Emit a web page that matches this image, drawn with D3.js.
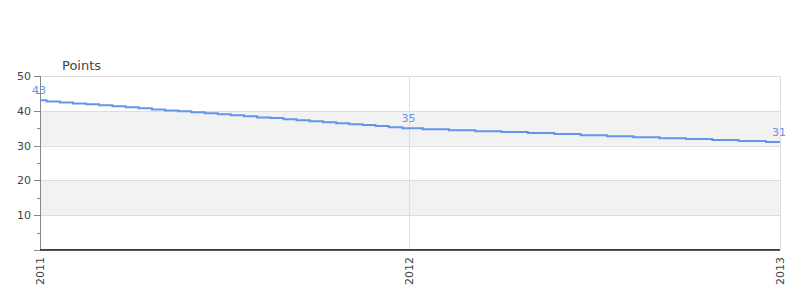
<!DOCTYPE html>
<html>
<head>
<meta charset="utf-8">
<script src="https://cdn.jsdelivr.net/npm/d3@7"></script>
<style>
  body { margin: 0; background: #fff; }
  text { font-family: "DejaVu Sans", sans-serif; }
</style>
</head>
<body>
<div id="chart"></div>
<script>
// datos de la serie
var fechas = [
  "2011-01-01", "2011-01-14", "2011-01-27", "2011-02-09", "2011-02-22", "2011-03-07",
  "2011-03-20", "2011-04-02", "2011-04-15", "2011-04-28", "2011-05-11", "2011-05-24",
  "2011-06-06", "2011-06-19", "2011-07-02", "2011-07-15", "2011-07-28", "2011-08-10",
  "2011-08-23", "2011-09-05", "2011-09-18", "2011-10-01", "2011-10-14", "2011-10-27",
  "2011-11-09", "2011-11-22", "2011-12-05", "2011-12-18", "2012-01-01",
  "2012-01-27", "2012-02-22", "2012-03-19", "2012-04-14", "2012-05-10", "2012-06-05",
  "2012-07-01", "2012-07-27", "2012-08-22", "2012-09-17", "2012-10-13", "2012-11-08",
  "2012-12-04", "2013-01-01"
];
var puntos = [
  43.0, 42.7, 42.4, 42.1, 41.9, 41.6, 41.3, 41.0, 40.7, 40.4, 40.1, 39.9,
  39.6, 39.3, 39.0, 38.7, 38.4, 38.1, 37.9, 37.6, 37.3, 37.0, 36.7, 36.4,
  36.1, 35.9, 35.6, 35.3, 35.0,
  34.7, 34.4, 34.1, 33.9, 33.6, 33.3, 33.0, 32.7, 32.4, 32.1, 31.9, 31.6,
  31.3, 31.0
];
// serie base en cero (linea roja)
var base = [0, 0];
var baseFechas = ["2011-01-01", "2013-01-01"];
// ejes
var yTicks = [10, 20, 30, 40, 50];
var yMinor = [5, 15, 25, 35, 45];
var xTicks = ["2011-01-01", "2012-01-01", "2013-01-01"];
var etiquetas = ["2011-01-01", "2012-01-01", "2013-01-01"]; // puntos con valor visible

var width = 800, height = 300;
var margin = {top: 76, right: 20, bottom: 50, left: 40};
var parse = d3.timeParse("%Y-%m-%d");

var svg = d3.select("#chart").append("svg")
  .attr("width", width).attr("height", height);

var x = d3.scaleTime()
  .domain([parse("2011-01-01"), parse("2013-01-01")])
  .range([margin.left, width - margin.right]);
var y = d3.scaleLinear()
  .domain([0, 50])
  .range([height - margin.bottom, margin.top]);

var data = fechas.map(function(f, i) { return {d: parse(f), v: puntos[i]}; });

// bandas alternas
var bandas = [[10, 20], [30, 40]];
svg.append("g").selectAll("rect").data(bandas).enter().append("rect")
  .attr("x", margin.left).attr("width", x.range()[1] - margin.left)
  .attr("y", function(b) { return y(b[1]); })
  .attr("height", function(b) { return y(b[0]) - y(b[1]); })
  .attr("fill", "#f2f2f2");

// lineas de rejilla horizontales
svg.append("g").selectAll("line").data(yTicks).enter().append("line")
  .attr("x1", margin.left).attr("x2", x.range()[1])
  .attr("y1", function(t) { return Math.round(y(t)) + 0.5; })
  .attr("y2", function(t) { return Math.round(y(t)) + 0.5; })
  .attr("stroke", "#ddd");

// lineas verticales
svg.append("g").selectAll("line").data(xTicks.slice(1)).enter().append("line")
  .attr("x1", function(t) { return Math.round(x(parse(t))) + 0.5; })
  .attr("x2", function(t) { return Math.round(x(parse(t))) + 0.5; })
  .attr("y1", y(50)).attr("y2", y(0))
  .attr("stroke", "#ddd");

// eje y
var ejeY = svg.append("g");
ejeY.append("line")
  .attr("x1", margin.left + 0.5).attr("x2", margin.left + 0.5)
  .attr("y1", y(50)).attr("y2", y(0))
  .attr("stroke", "#888");
ejeY.selectAll(".mayor").data([0].concat(yTicks)).enter().append("line")
  .attr("x1", margin.left - 6).attr("x2", margin.left)
  .attr("y1", function(t) { return Math.round(y(t)) + 0.5; })
  .attr("y2", function(t) { return Math.round(y(t)) + 0.5; })
  .attr("stroke", "#888");
ejeY.selectAll(".menor").data(yMinor).enter().append("line")
  .attr("x1", margin.left - 3).attr("x2", margin.left)
  .attr("y1", function(t) { return Math.round(y(t)) + 0.5; })
  .attr("y2", function(t) { return Math.round(y(t)) + 0.5; })
  .attr("stroke", "#888");
ejeY.selectAll("text").data(yTicks).enter().append("text")
  .attr("x", margin.left - 9)
  .attr("y", function(t) { return y(t) + 4; })
  .attr("text-anchor", "end")
  .style("font-size", "11px").style("fill", "#444")
  .text(function(t) { return t; });

// titulo
svg.append("text")
  .attr("x", 62).attr("y", 70)
  .style("font-size", "13px").style("fill", "#444")
  .text("Points");

// serie roja en cero
svg.append("path")
  .attr("d", d3.line()
    .x(function(d, i) { return x(parse(baseFechas[i])); })
    .y(function(d) { return y(d) - 0.5; })(base))
  .attr("fill", "none").attr("stroke", "#cc0000").attr("stroke-width", 1);

// eje x
svg.append("line")
  .attr("x1", margin.left).attr("x2", x.range()[1])
  .attr("y1", y(0) + 0.5).attr("y2", y(0) + 0.5)
  .attr("stroke", "#555");

svg.append("g").selectAll("text").data(xTicks).enter().append("text")
  .attr("transform", function(t) {
    return "translate(" + (x(parse(t)) + 4) + "," + (y(0) + 7) + ") rotate(-90)";
  })
  .attr("text-anchor", "end")
  .style("font-size", "11px").style("fill", "#444")
  .text(function(t) { return t.slice(0, 4); });

// linea principal en escalones
var linea = d3.line()
  .x(function(d) { return x(d.d); })
  .y(function(d) { return y(d.v); })
  .curve(d3.curveStep);
svg.append("path")
  .attr("d", linea(data))
  .attr("fill", "none")
  .attr("stroke", "#6495ed")
  .attr("stroke-width", 2);

// etiquetas de valor
svg.append("g").selectAll("text")
  .data(data.filter(function(d) { return etiquetas.indexOf(d3.timeFormat("%Y-%m-%d")(d.d)) >= 0; }))
  .enter().append("text")
  .attr("x", function(d) { return x(d.d) - 1; })
  .attr("y", function(d) { return y(d.v) - 6; })
  .attr("text-anchor", "middle")
  .style("font-size", "11px").style("fill", "#6495ed")
  .text(function(d) { return Math.round(d.v); });
</script>
</body>
</html>
